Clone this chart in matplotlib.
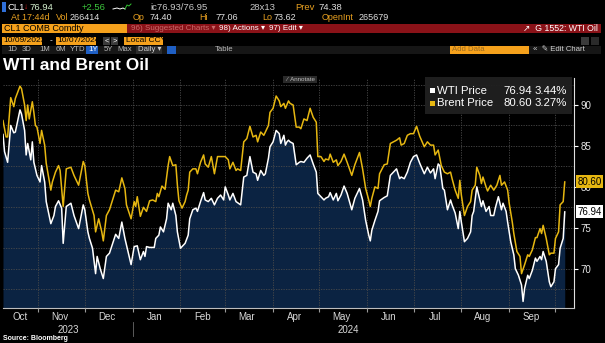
import datetime as dt
import matplotlib
matplotlib.use("Agg")
import matplotlib.pyplot as plt
from matplotlib.patches import Rectangle
from matplotlib.transforms import blended_transform_factory

plt.rcParams["font.family"] = ["Liberation Sans", "DejaVu Sans"]

W, H = 605, 343
START = dt.date(2023, 10, 9)

# days after START
brent_days = [0, 2, 3, 5, 7, 8, 11, 12, 14, 15, 16, 17, 19, 20, 21, 22, 24, 25, 27, 28,
              31, 32, 34, 36, 37, 39, 41, 44, 46, 49, 52, 53, 55, 56, 59, 60, 62, 64, 65, 67,
              69, 73, 75, 77, 79, 80, 83, 85, 86, 87, 89, 91, 93, 95, 97, 99, 100, 101, 103, 105,
              106, 107, 108, 110, 112, 113, 114, 116, 118, 119, 120, 121, 123, 125, 126, 128, 130, 131, 133, 135,
              137, 139, 141, 144, 146, 147, 149, 151, 152, 154, 156, 158, 160, 162, 164, 165, 167, 169, 170, 172,
              173, 175, 177, 179, 180, 182, 183, 185, 186, 188, 190, 192, 193, 195, 197, 199, 201, 203, 204, 206,
              208, 209, 211, 212, 214, 216, 217, 219, 221, 223, 226, 228, 231, 233, 235, 237, 238, 239, 241, 243,
              244, 247, 249, 251, 253, 255, 257, 258, 260, 262, 264, 266, 268, 270, 273, 275, 277, 279, 280, 282,
              284, 286, 288, 290, 291, 293, 295, 296, 297, 299, 301, 303, 304, 306, 307, 309, 310, 311, 313, 314,
              316, 318, 320, 322, 323, 325, 327, 328, 330, 331, 333, 335, 336, 338, 340, 341, 343, 345, 346, 348,
              349, 350, 352, 354, 355, 357, 358, 360, 361, 363, 364]
brent = [88.1, 86.1, 86.1, 90.9, 89.8, 90.8, 92.3, 92.0, 90.0, 88.1, 90.0, 88.3, 90.4, 89.1, 87.5, 87.3, 85.3, 86.9, 85.1, 82.9,
         79.6, 80.6, 81.8, 82.6, 82.0, 77.6, 82.2, 82.4, 81.4, 80.2, 83.1, 82.6, 79.2, 78.4, 76.5, 74.5, 76.1, 74.5, 73.4, 76.5,
         77.2, 79.6, 79.4, 81.1, 79.8, 77.8, 76.1, 78.2, 77.6, 78.8, 76.4, 77.5, 77.0, 78.3, 78.4, 78.2, 79.2, 78.8, 80.1, 79.7,
         81.2, 82.6, 83.7, 82.6, 82.7, 80.2, 78.3, 77.4, 78.2, 79.0, 79.6, 81.8, 82.2, 82.2, 81.6, 83.0, 83.9, 82.8, 82.4, 83.7,
         81.6, 83.7, 83.7, 83.7, 83.3, 82.2, 83.0, 82.0, 82.2, 82.0, 85.5, 85.9, 87.4, 86.1, 86.3, 85.5, 86.7, 86.3, 86.7, 87.5,
         89.1, 89.6, 91.1, 90.5, 89.8, 90.2, 89.6, 90.5, 90.2, 90.0, 87.3, 87.3, 87.1, 88.3, 88.1, 89.6, 88.5, 87.9, 83.7, 83.7,
         83.1, 83.4, 83.3, 84.0, 83.0, 83.3, 82.6, 83.1, 84.0, 83.0, 81.4, 82.7, 84.2, 82.2, 79.8, 78.4, 77.6, 78.6, 80.0, 79.8,
         81.6, 82.7, 82.8, 85.3, 85.5, 85.7, 86.0, 85.1, 85.3, 86.3, 86.5, 86.5, 87.4, 86.2, 84.9, 85.5, 85.1, 85.1, 83.9, 84.5,
         82.6, 81.8, 81.6, 81.8, 81.0, 79.6, 78.6, 80.8, 79.0, 76.5, 77.6, 78.2, 79.6, 80.2, 82.4, 81.4, 80.4, 81.2, 80.0, 79.5,
         80.2, 79.6, 80.2, 81.4, 80.2, 80.6, 79.6, 78.0, 75.7, 74.3, 72.1, 71.5, 69.4, 70.5, 71.7, 71.5, 72.3, 73.8, 73.8, 74.9,
         74.3, 75.3, 73.7, 71.7, 71.9, 71.9, 73.7, 74.5, 77.8, 78.2, 80.6]

wti_days = [0, 1, 3, 5, 7, 8, 11, 12, 14, 15, 16, 18, 19, 20, 22, 24, 25, 27, 28, 31,
            33, 34, 36, 38, 39, 41, 44, 46, 49, 52, 53, 55, 56, 58, 60, 61, 63, 65, 67, 69,
            73, 75, 77, 79, 81, 83, 85, 87, 89, 91, 92, 93, 95, 98, 99, 101, 102, 104, 106, 107,
            109, 110, 112, 113, 115, 118, 120, 121, 123, 125, 126, 128, 130, 131, 133, 135, 137, 139, 141, 143,
            144, 146, 147, 149, 151, 154, 156, 158, 160, 162, 164, 165, 167, 169, 170, 172, 173, 175, 177, 179,
            180, 182, 183, 184, 185, 186, 188, 190, 192, 193, 195, 197, 199, 201, 203, 204, 206, 208, 209, 211,
            212, 214, 216, 217, 219, 221, 223, 226, 228, 231, 233, 235, 237, 238, 239, 241, 243, 244, 247, 249,
            251, 253, 255, 257, 258, 260, 262, 264, 266, 268, 270, 273, 275, 277, 279, 280, 282, 283, 285, 286,
            288, 290, 291, 293, 295, 296, 297, 299, 301, 303, 304, 305, 307, 309, 310, 311, 313, 315, 316, 318,
            319, 321, 323, 324, 326, 327, 329, 331, 332, 334, 336, 337, 338, 340, 341, 343, 345, 346, 348, 349,
            350, 352, 354, 355, 357, 358, 360, 361, 363, 364]
wti = [86.4, 84.3, 83.0, 87.5, 86.6, 86.7, 89.4, 88.9, 86.9, 83.9, 85.3, 83.3, 85.5, 83.0, 81.4, 80.6, 82.6, 80.6, 78.2, 75.5,
       76.5, 77.6, 78.3, 77.4, 73.1, 77.6, 78.0, 76.5, 74.9, 77.8, 77.2, 74.5, 73.7, 72.5, 69.4, 71.5, 70.0, 68.8, 71.5, 71.9,
       74.2, 73.7, 75.7, 73.7, 72.1, 70.5, 72.7, 72.8, 71.1, 72.1, 71.5, 72.7, 72.6, 72.6, 73.7, 74.1, 75.1, 74.5, 76.1, 78.0,
       77.2, 78.0, 76.5, 74.5, 72.5, 73.1, 74.1, 76.1, 77.2, 77.4, 77.0, 78.2, 79.3, 78.4, 78.2, 78.6, 77.8, 78.6, 79.0, 78.4,
       80.0, 79.0, 78.4, 79.2, 78.2, 77.8, 81.2, 81.4, 83.7, 81.8, 81.6, 80.8, 82.0, 81.4, 81.6, 83.5, 84.9, 85.5, 86.9, 86.5,
       85.3, 86.3, 85.1, 85.5, 85.7, 85.5, 85.3, 82.7, 83.0, 83.1, 83.0, 83.5, 83.9, 82.8, 81.8, 79.2, 78.8, 78.4, 78.6, 78.8,
       79.3, 78.4, 79.2, 78.3, 79.0, 80.1, 79.2, 77.2, 78.6, 79.8, 78.4, 75.9, 74.1, 73.4, 74.7, 75.9, 77.0, 78.3, 78.7, 78.9,
       81.4, 81.8, 82.2, 81.0, 81.2, 81.0, 81.8, 83.0, 83.7, 83.9, 82.9, 81.6, 82.4, 81.7, 82.2, 81.0, 82.8, 82.6, 79.8, 79.6,
       77.2, 78.4, 77.8, 76.8, 74.9, 77.0, 75.7, 73.3, 73.7, 74.5, 76.5, 77.0, 80.0, 78.4, 77.6, 78.3, 77.0, 77.6, 76.5, 76.5,
       77.4, 78.8, 77.2, 78.0, 77.0, 75.7, 73.3, 71.7, 70.0, 69.2, 68.0, 66.0, 67.6, 69.2, 68.8, 69.8, 71.3, 70.9, 71.5, 71.1,
       72.1, 70.9, 68.4, 67.8, 68.4, 70.0, 70.5, 72.5, 73.7, 76.94]

wti_last, wti_chg = 76.94, "3.44%"
brent_last, brent_chg = 80.60, "3.27%"
month_names = ["Oct", "Nov", "Dec", "Jan", "Feb", "Mar", "Apr", "May", "Jun", "Jul", "Aug", "Sep"]

GOLD = "#e6b711"
NAVY = "#0b2342"
ORANGE = "#f5a11c"
AMBER = "#e8a020"


def fx(px):
    return px / W


def fy(py):
    return 1 - py / H


def box(x, y, w, h, color, **kw):
    fig.add_artist(Rectangle((fx(x), fy(y + h)), w / W, h / H, transform=fig.transFigure,
                             facecolor=color, edgecolor="none", **kw))


def txt(x, y, s, color="white", size=7, **kw):
    fig.text(fx(x), fy(y), s, color=color, fontsize=size, va="center", ha=kw.pop("ha", "left"), **kw)


brent_dates = [START + dt.timedelta(days=d) for d in brent_days]
wti_dates = [START + dt.timedelta(days=d) for d in wti_days]

fig = plt.figure(figsize=(W / 100, H / 100), dpi=100, facecolor="black")

# ---- terminal header ----
box(2, 2, 4, 10, "#2f6fd8")
txt(8, 7.5, "CL1", size=6.8)
txt(24, 7.5, "\u2193", color="#e02020", size=6.0)
txt(29, 7.5, "76.94", color="#d6f2d0", size=6.8)
txt(82, 7.5, "+2.56", color="#3cc83c", size=6.8)
fig.add_artist(plt.Line2D([fx(113), fx(117), fx(120), fx(123), fx(125)],
                          [fy(9), fy(8), fy(9), fy(8), fy(9)], color="white", lw=0.7))
fig.add_artist(plt.Line2D([fx(125), fx(127), fx(129), fx(131)],
                          [fy(9), fy(5), fy(6), fy(4)], color="#30c030", lw=0.7))
txt(150, 7.5, "ic76.93/76.95", color="#c8c8c8", size=6.8)
txt(249, 7.5, "28x13", color="#c8c8c8", size=6.8)
txt(295, 7.5, "Prev", color=AMBER, size=6.8)
txt(318, 7.5, "74.38", color="#e0e0e0", size=6.8)

row2 = [(11, "At 17:44d", AMBER), (56, "Vol", AMBER), (70, "266414", "#e0e0e0"),
        (133, "Op", AMBER), (150, "74.40", "#e0e0e0"), (199, "Hi", AMBER), (216, "77.06", "#e0e0e0"),
        (262, "Lo", AMBER), (274, "73.62", "#e0e0e0"), (322, "OpenInt", AMBER), (359, "265679", "#e0e0e0")]
for x, s, c in row2:
    txt(x, 17.5, s, color=c, size=6.5)

box(2, 24, 599, 9, "#8a1218")
box(2, 24, 125, 9, ORANGE)
txt(4, 28.7, "CL1 COMB Comdty", color="black", size=6.5)
txt(131, 28.7, "96) Suggested Charts \u25be", color="#c86a6a", size=5.8)
txt(219, 28.7, "98) Actions \u25be", size=5.8)
txt(269, 28.7, "97) Edit \u25be", size=5.8)
txt(598, 28.7, "\u2197  G 1552: WTI Oil", size=6.3, ha="right")

box(2, 37, 40, 7.5, ORANGE)
txt(3, 40.8, "10/09/2023", color="black", size=6)
txt(50, 40.8, "-", size=6)
box(56, 37, 40, 7.5, ORANGE)
txt(57, 40.8, "10/07/2024", color="black", size=6)
box(103, 37, 7, 7.5, "#3a3a3a")
box(111, 37, 7, 7.5, "#3a3a3a")
txt(104.5, 40.8, "<", size=5.5)
txt(112.5, 40.8, ">", size=5.5)
box(124, 37, 39, 7.5, ORANGE)
txt(126, 40.8, "Local CCY", color="black", size=6)
box(581, 37, 8, 7.5, "#3a3a3a")
box(591, 37, 8, 7.5, "#2a2a2a")

box(2, 45.5, 599, 8.5, "#161616")
for x, s in [(7, "1D"), (22, "3D"), (39, "1M"), (56, "6M"), (70, "YTD"), (104, "5Y"), (117, "Max"),
             (215, "Table")]:
    txt(x, 49.8, s, color="#b8b8b8", size=5.6)
box(86, 45.5, 12, 8.5, "#1f5fc4")
txt(88, 49.8, "1Y", size=5.6)
box(136, 45.5, 26, 8.5, "#2c2c2c")
txt(138, 49.8, "Daily \u25be", color="#d0d0d0", size=5.6)
box(167, 45.5, 9, 8.5, "#1f5fc4")
box(450, 45.5, 79, 8.5, ORANGE)
txt(452, 49.8, "Add Data", color="#9a6a20", size=5.6)
txt(533, 49.8, "\u00ab  \u270e Edit Chart", color="#d0d0d0", size=5.6)

fig.text(fx(3), fy(65), "WTI and Brent Oil", color="white", fontsize=12.5,
         fontweight="bold", va="center")

# ---- chart ----
ax = fig.add_axes([fx(3), fy(308), 571 / W, 230 / H])
ax.set_facecolor("black")
ax.fill_between(wti_dates, wti, 60, color=NAVY, lw=0, zorder=1)
ax.plot(brent_dates, brent, color=GOLD, lw=1.1, zorder=3)
ax.plot(wti_dates, wti, color="white", lw=1.1, zorder=4)

ax.set_xlim(START, START + dt.timedelta(days=370.5))
ax.set_ylim(65.2, 93.3)
ax.set_axisbelow(False)

m = dt.date(2023, 11, 1)
month_starts = []
while m <= dt.date(2024, 10, 1):
    month_starts.append(m)
    m = dt.date(m.year + (m.month // 12), m.month % 12 + 1, 1)
mids = [dt.date(2023, 10, 20)] + [dt.date(d.year, d.month, 15) for d in month_starts[:-1]]

ax.set_xticks(month_starts)
ax.set_xticklabels([])
ax.set_xticks(mids, minor=True)
ax.set_xticklabels(month_names, minor=True)
ax.tick_params(axis="x", which="major", length=3, color="#9a9a9a", direction="out")
ax.tick_params(axis="x", which="minor", length=0, pad=3, labelsize=7, labelcolor="#d8d8d8")

ax.yaxis.tick_right()
ax.set_yticks([70, 75, 80, 85, 90])
ax.set_yticks([67.5, 72.5, 77.5, 82.5, 87.5, 92.5], minor=True)
ax.tick_params(axis="y", which="major", length=3, color="white", labelsize=7,
               labelcolor="#e8e8e8", pad=2)
ax.tick_params(axis="y", which="minor", length=0)

grid_kw = dict(color="#4a4a4a", lw=0.6, linestyle=(0, (1.5, 1.5)))
ax.grid(True, axis="x", which="major", **grid_kw)
ax.grid(True, axis="y", which="both", **grid_kw)

for side in ["top", "left"]:
    ax.spines[side].set_visible(False)
ax.spines["right"].set_color("#e0e0e0")
ax.spines["right"].set_linewidth(0.8)
ax.spines["bottom"].set_color("#bdbdbd")
ax.spines["bottom"].set_linewidth(0.8)

tr = blended_transform_factory(ax.transData, ax.transAxes)
y2023 = START + (dt.date(2024, 1, 1) - START) / 2
y2024 = dt.date(2024, 1, 1) + (START + dt.timedelta(days=364) - dt.date(2024, 1, 1)) / 2
ax.text(y2023, -0.097, "2023", transform=tr, color="#d8d8d8", fontsize=7, ha="center", va="center")
ax.text(y2024, -0.097, "2024", transform=tr, color="#d8d8d8", fontsize=7, ha="center", va="center")
ax.plot([dt.date(2024, 1, 1)] * 2, [-0.06, -0.12], transform=tr, color="#6a6a6a", lw=0.6,
        clip_on=False)

# last-price tags on the right axis (the gold one sits over the 80 label, as in the terminal)
ytr = blended_transform_factory(ax.transAxes, ax.transData)
ax.text(1.006, brent_last, f"{brent_last:.2f}", transform=ytr, fontsize=7, color="black",
        va="center", ha="left", zorder=10,
        bbox=dict(boxstyle="square,pad=0.15", fc=GOLD, ec="none"))
ax.text(1.006, wti_last, f"{wti_last:.2f}", transform=ytr, fontsize=7, color="black",
        va="center", ha="left", zorder=10,
        bbox=dict(boxstyle="square,pad=0.15", fc="white", ec="none"))

# legend panel
box(425, 77, 147, 37, "#202020", alpha=0.95)
box(430, 88, 5, 5, "white")
box(430, 101, 5, 5, GOLD)
txt(437, 90.7, "WTI Price", size=8.2)
txt(437, 103.3, "Brent Price", size=8.2)
txt(503, 90.7, f"{wti_last:.2f}", size=8.2)
txt(503, 103.3, f"{brent_last:.2f}", size=8.2)
txt(567, 90.7, wti_chg, size=8.2, ha="right")
txt(567, 103.3, brent_chg, size=8.2, ha="right")

# annotate button
box(283, 76, 34, 7, "#2a2a2a")
txt(286, 79.6, "\u2215  Annotate", color="#bcbcbc", size=4.5)

fig.text(fx(3), fy(338), "Source: Bloomberg", color="white", fontsize=5, fontweight="bold",
         va="center")

fig.savefig("out.png", dpi=100, facecolor="black")
